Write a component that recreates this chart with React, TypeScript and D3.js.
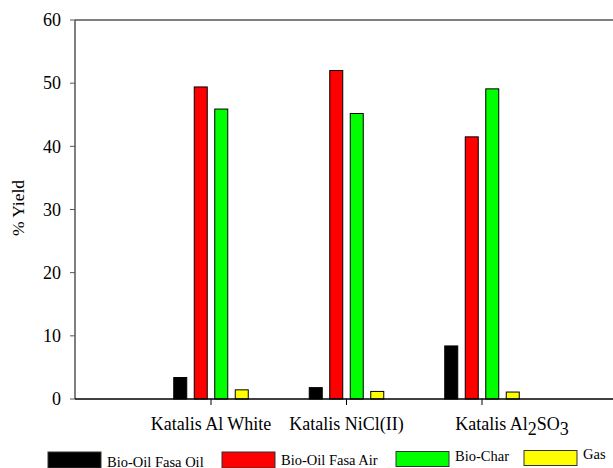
import React from "react";
import * as d3 from "d3";

const categories = ["Katalis Al White", "Katalis NiCl(II)", "Katalis Al2SO3"];
const seriesNames = ["Bio-Oil Fasa Oil", "Bio-Oil Fasa Air", "Bio-Char", "Gas"];
const seriesColors = ["#000000", "#ff0000", "#00ff00", "#ffff00"];
const bioOilFasaOil = [3.4, 1.8, 8.4];
const bioOilFasaAir = [49.4, 52.0, 41.5];
const bioChar = [45.9, 45.2, 49.1];
const gas = [1.45, 1.2, 1.1];
const seriesValues = [bioOilFasaOil, bioOilFasaAir, bioChar, gas];
const yTicks = [0, 10, 20, 30, 40, 50, 60];

const W = 613;
const H = 468;
const FONT = "'Liberation Serif', 'Times New Roman', serif";

export default function App() {
  const x = d3.scalePoint<string>().domain(categories).range([211, 482]);
  const xs = d3
    .scaleBand<string>()
    .domain(seriesNames)
    .range([-37.25, 37.25])
    .paddingInner(0.366)
    .paddingOuter(0);
  const y = d3.scaleLinear().domain([0, 60]).range([399, 20]);
  const left = 75;
  const right = W;

  const legendX = [48, 222, 396, 524];
  const legendTextY = [466.5, 464.5, 461, 459];
  const legendTop = [452, 452, 451.5, 450.5];
  const legendH = [16, 16, 15, 15];

  return (
    <svg
      width={W}
      height={H}
      style={{ position: "absolute", left: 0, top: 0, background: "#fff" }}
      fontFamily={FONT}
    >
      <rect x={0} y={0} width={W} height={H} fill="#fff" />
      {/* bars */}
      {categories.map((c, ci) =>
        seriesNames.map((s, si) => {
          const v = seriesValues[si][ci];
          const bx = (x(c) as number) + (xs(s) as number);
          return (
            <rect
              key={c + s}
              x={bx}
              y={y(v)}
              width={xs.bandwidth()}
              height={y(0) - y(v)}
              fill={seriesColors[si]}
              stroke="#000"
              strokeWidth={1}
            />
          );
        })
      )}
      {/* frame */}
      <line x1={left} x2={right} y1={y(60)} y2={y(60)} stroke="#555" strokeWidth={1.5} />
      <line x1={left} x2={left} y1={y(60)} y2={y(0)} stroke="#555" strokeWidth={1.5} />
      <line x1={left} x2={right} y1={y(0)} y2={y(0)} stroke="#000" strokeWidth={1.5} />
      {/* y ticks */}
      {yTicks.map((t) => (
        <g key={t}>
          <line x1={left - 5} x2={left} y1={y(t)} y2={y(t)} stroke="#555" strokeWidth={1} />
          <text
            x={61}
            y={y(t)}
            dy="0.35em"
            textAnchor="end"
            fontSize={18}
            fill="#000"
          >
            {t}
          </text>
        </g>
      ))}
      <text
        transform={`translate(24,208) rotate(-90)`}
        textAnchor="middle"
        fontSize={17.5}
        fill="#000"
      >
        % Yield
      </text>
      {/* x ticks */}
      {categories.map((c) => (
        <line
          key={c}
          x1={x(c) as number}
          x2={x(c) as number}
          y1={y(0)}
          y2={y(0) + 6}
          stroke="#000"
          strokeWidth={1}
        />
      ))}
      <text x={x(categories[0]) as number} y={430} textAnchor="middle" fontSize={18}>
        {categories[0]}
      </text>
      <text x={x(categories[1]) as number} y={430} textAnchor="middle" fontSize={18}>
        {categories[1]}
      </text>
      <text x={(x(categories[2]) as number) + 30} y={430} textAnchor="middle" fontSize={18}>
        Katalis Al
        <tspan dy={5}>2</tspan>
        <tspan dy={-5}>SO</tspan>
        <tspan dy={5}>3</tspan>
      </text>
      {/* legend */}
      {seriesNames.map((s, i) => (
        <g key={s}>
          <rect
            x={legendX[i]}
            y={legendTop[i]}
            width={53}
            height={legendH[i]}
            fill={seriesColors[i]}
            stroke="#333"
            strokeWidth={1}
          />
          <text x={legendX[i] + 59} y={legendTextY[i]} fontSize={14.5} fill="#000">
            {s}
          </text>
        </g>
      ))}
    </svg>
  );
}
